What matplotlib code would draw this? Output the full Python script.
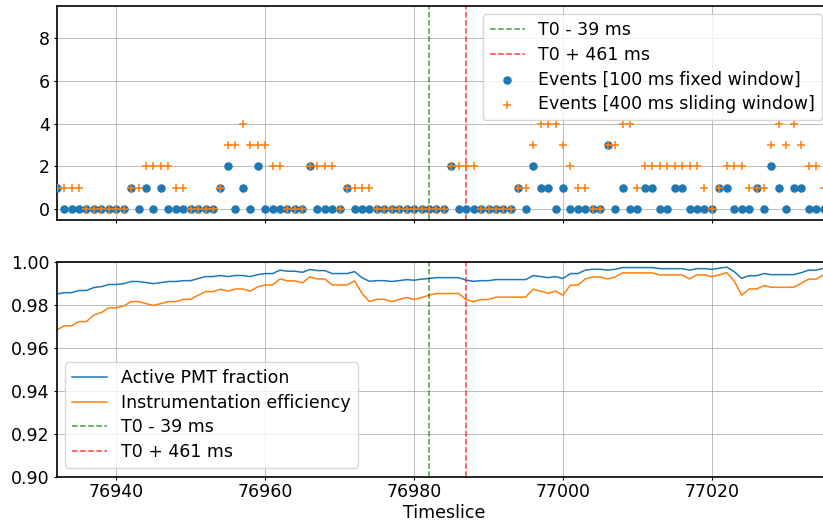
import numpy as np
import matplotlib
matplotlib.use('Agg')
import matplotlib.pyplot as plt

# timeslice index (100 ms each)
timeslice = np.arange(76932, 77036)

# events per 100 ms fixed window
events_fixed = [1, 0, 0, 0, 0, 0, 0, 0, 0, 0,
                1, 0, 1, 0, 1, 0, 0, 0, 0, 0,
                0, 0, 1, 2, 0, 1, 0, 2, 0, 0,
                0, 0, 0, 0, 2, 0, 0, 0, 0, 1,
                0, 0, 0, 0, 0, 0, 0, 0, 0, 0,
                0, 0, 0, 2, 0, 0, 0, 0, 0, 0,
                0, 0, 1, 0, 2, 1, 1, 0, 1, 0,
                0, 0, 0, 0, 3, 0, 1, 0, 0, 1,
                1, 0, 0, 1, 1, 0, 0, 0, 0, 1,
                1, 0, 0, 0, 1, 0, 2, 1, 0, 1,
                1, 0, 0, 0]

# events in 400 ms sliding window
events_sliding = [1, 1, 1, 1, 0, 0, 0, 0, 0, 0,
                  1, 1, 2, 2, 2, 2, 1, 1, 0, 0,
                  0, 0, 1, 3, 3, 4, 3, 3, 3, 2,
                  2, 0, 0, 0, 2, 2, 2, 2, 0, 1,
                  1, 1, 1, 0, 0, 0, 0, 0, 0, 0,
                  0, 0, 0, 2, 2, 2, 2, 0, 0, 0,
                  0, 0, 1, 1, 3, 4, 4, 4, 3, 2,
                  1, 1, 0, 0, 3, 3, 4, 4, 1, 2,
                  2, 2, 2, 2, 2, 2, 2, 1, 0, 1,
                  2, 2, 2, 1, 1, 1, 3, 4, 3, 4,
                  3, 2, 2, 1]

pmt_fraction = [0.9851, 0.9858, 0.9858, 0.9868, 0.9868, 0.9882, 0.9886, 0.9896, 0.9896, 0.9900,
                0.9910, 0.9910, 0.9905, 0.9900, 0.9905, 0.9910, 0.9910, 0.9914, 0.9914, 0.9924,
                0.9933, 0.9933, 0.9938, 0.9933, 0.9938, 0.9938, 0.9933, 0.9942, 0.9947, 0.9947,
                0.9963, 0.9958, 0.9958, 0.9953, 0.9966, 0.9961, 0.9961, 0.9947, 0.9947, 0.9947,
                0.9956, 0.9928, 0.9911, 0.9914, 0.9914, 0.9910, 0.9914, 0.9919, 0.9916, 0.9921,
                0.9924, 0.9928, 0.9928, 0.9928, 0.9928, 0.9916, 0.9911, 0.9914, 0.9914, 0.9919,
                0.9919, 0.9919, 0.9919, 0.9919, 0.9938, 0.9933, 0.9928, 0.9933, 0.9924, 0.9947,
                0.9947, 0.9963, 0.9967, 0.9967, 0.9963, 0.9967, 0.9975, 0.9975, 0.9975, 0.9975,
                0.9975, 0.9970, 0.9970, 0.9970, 0.9970, 0.9963, 0.9970, 0.9970, 0.9967, 0.9972,
                0.9977, 0.9956, 0.9925, 0.9937, 0.9937, 0.9947, 0.9942, 0.9942, 0.9942, 0.9942,
                0.9951, 0.9963, 0.9963, 0.9972]

instr_eff = [0.9683, 0.9703, 0.9703, 0.9723, 0.9723, 0.9754, 0.9765, 0.9787, 0.9787, 0.9796,
             0.9816, 0.9816, 0.9807, 0.9798, 0.9807, 0.9816, 0.9816, 0.9827, 0.9827, 0.9846,
             0.9863, 0.9863, 0.9874, 0.9865, 0.9875, 0.9875, 0.9865, 0.9885, 0.9894, 0.9894,
             0.9922, 0.9913, 0.9913, 0.9904, 0.9931, 0.9922, 0.9922, 0.9894, 0.9894, 0.9894,
             0.9913, 0.9855, 0.9816, 0.9827, 0.9827, 0.9816, 0.9826, 0.9835, 0.9826, 0.9835,
             0.9846, 0.9854, 0.9854, 0.9854, 0.9854, 0.9826, 0.9816, 0.9826, 0.9826, 0.9837,
             0.9837, 0.9837, 0.9837, 0.9837, 0.9874, 0.9865, 0.9855, 0.9865, 0.9846, 0.9893,
             0.9893, 0.9922, 0.9931, 0.9931, 0.9922, 0.9931, 0.9950, 0.9950, 0.9950, 0.9950,
             0.9950, 0.9941, 0.9941, 0.9941, 0.9941, 0.9922, 0.9941, 0.9941, 0.9933, 0.9941,
             0.9951, 0.9913, 0.9846, 0.9875, 0.9875, 0.9891, 0.9883, 0.9883, 0.9883, 0.9883,
             0.9902, 0.9921, 0.9921, 0.9941]

t_before = 76982  # T0 - 39 ms
t_after = 76987   # T0 + 461 ms

plt.rcParams['font.size'] = 12.5
plt.rcParams['axes.linewidth'] = 1.2
plt.rcParams['xtick.major.size'] = 2.5
plt.rcParams['ytick.major.size'] = 2.5
plt.rcParams['xtick.major.pad'] = 2.5
plt.rcParams['ytick.major.pad'] = 2.5
plt.rcParams['legend.labelspacing'] = 0.38

fig = plt.figure(figsize=(8.23, 5.21), dpi=100)
ax1 = fig.add_axes([0.0689, 0.5777, 0.9408, 0.4113])
ax2 = fig.add_axes([0.0689, 0.0854, 0.9408, 0.4113], sharex=ax1)

# upper panel: event counts
ax1.axvline(t_before, color='g', ls='--', lw=1.1, alpha=0.75, label='T0 - 39 ms')
ax1.axvline(t_after, color='r', ls='--', lw=1.1, alpha=0.75, label='T0 + 461 ms')
ax1.scatter(timeslice, events_fixed, s=26, color='C0', zorder=3,
            label='Events [100 ms fixed window]')
ax1.scatter(timeslice, events_sliding, s=26, marker='+', linewidths=1.1, color='C1', zorder=4,
            label='Events [400 ms sliding window]')
ax1.set_ylim(-0.5, 9.5)
ax1.set_yticks([0, 2, 4, 6, 8])
ax1.grid(True, lw=0.6)
ax1.set_axisbelow(True)
ax1.tick_params(labelbottom=False)
ax1.legend(loc='upper right', scatterpoints=1)

# lower panel: detector status
ax2.plot(timeslice, pmt_fraction, color='C0', lw=1.1, label='Active PMT fraction')
ax2.plot(timeslice, instr_eff, color='C1', lw=1.1, label='Instrumentation efficiency')
ax2.axvline(t_before, color='g', ls='--', lw=1.1, alpha=0.75, label='T0 - 39 ms')
ax2.axvline(t_after, color='r', ls='--', lw=1.1, alpha=0.75, label='T0 + 461 ms')
ax2.set_ylim(0.90, 1.00)
ax2.set_yticks([0.90, 0.92, 0.94, 0.96, 0.98, 1.00])
ax2.yaxis.set_major_formatter(matplotlib.ticker.FormatStrFormatter('%.2f'))
ax2.grid(True, lw=0.6)
ax2.legend(loc='lower left')
ax2.set_xlabel('Timeslice', labelpad=2)

ax1.set_xlim(76932, 77036)
ax1.set_xticks([76940, 76960, 76980, 77000, 77020])
ax2.ticklabel_format(axis='x', useOffset=False)

plt.savefig('out.png', dpi=100)
